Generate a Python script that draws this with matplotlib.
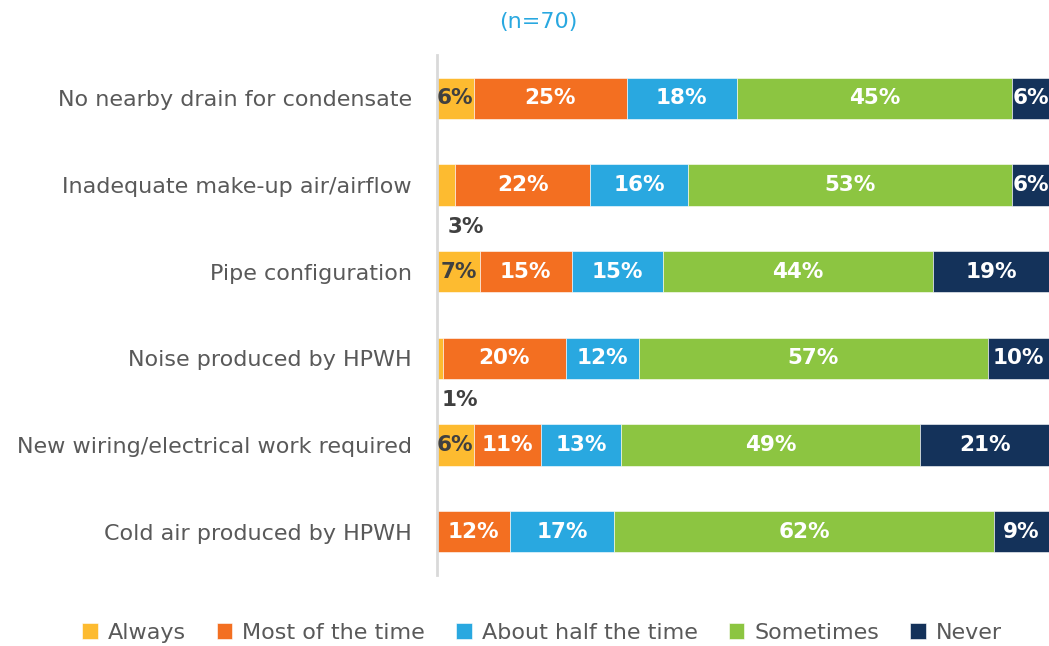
import matplotlib
matplotlib.use("Agg")
import matplotlib.pyplot as plt
import numpy as np

categories = [
    "No nearby drain for condensate",
    "Inadequate make-up air/airflow",
    "Pipe configuration",
    "Noise produced by HPWH",
    "New wiring/electrical work required",
    "Cold air produced by HPWH",
]
series_names = ["Always", "Most of the time", "About half the time", "Sometimes", "Never"]
always = [6, 3, 7, 1, 6, 0]
most = [25, 22, 15, 20, 11, 12]
half = [18, 16, 15, 12, 13, 17]
sometimes = [45, 53, 44, 57, 49, 62]
never = [6, 6, 19, 10, 21, 9]
title = "(n=70)"

colors = ["#FDBB30", "#F36F21", "#29A8E0", "#8CC541", "#14325A"]
label_colors = ["#404040", "white", "white", "white", "white"]

plt.rcParams['font.family'] = ['DejaVu Sans']

fig = plt.figure(figsize=(10.49, 6.46), dpi=100)
ax = fig.add_axes([437/1049, 1 - 575/646, 1 - 437/1049, 520/646])

data = [always, most, half, sometimes, never]
y = np.arange(len(categories))
left = np.zeros(len(categories))
for i, (name, vals) in enumerate(zip(series_names, data)):
    vals = np.array(vals, dtype=float)
    ax.barh(y, vals, left=left, height=0.48, color=colors[i], label=name,
            edgecolor="white", linewidth=0.4)
    for j, v in enumerate(vals):
        if v <= 0:
            continue
        cx = left[j] + v / 2
        if v < 4:
            ax.annotate(f"{int(v)}%", (cx, y[j]), xytext=(14, -30),
                        textcoords="offset points", ha="center", va="center",
                        fontsize=15.5, fontweight="bold", color="#404040")
        else:
            ax.text(cx, y[j], f"{int(v)}%", ha="center", va="center",
                    fontsize=15.5, fontweight="bold", color=label_colors[i])
    left += vals

ax.set_xlim(0, 100)
ax.set_ylim(5.5, -0.5)
ax.set_yticks(y)
ax.set_yticklabels(categories, fontsize=16, color="#595959")
ax.tick_params(axis="y", length=0, pad=18)
ax.set_xticks([])
for s in ["top", "right", "bottom"]:
    ax.spines[s].set_visible(False)
ax.spines["left"].set_color("#D9D9D9")
ax.spines["left"].set_linewidth(2)

fig.text(538/1049, 1 - 22/646, title, ha="center", va="center",
         fontsize=16, color="#29A8E0")

fig.legend(loc="center", bbox_to_anchor=(542/1049, 1 - 633/646), ncol=5, frameon=False,
           fontsize=16, handlelength=0.7, handleheight=0.7, handletextpad=0.45,
           columnspacing=1.4, labelcolor="#595959")

fig.savefig("out.png", dpi=100)
